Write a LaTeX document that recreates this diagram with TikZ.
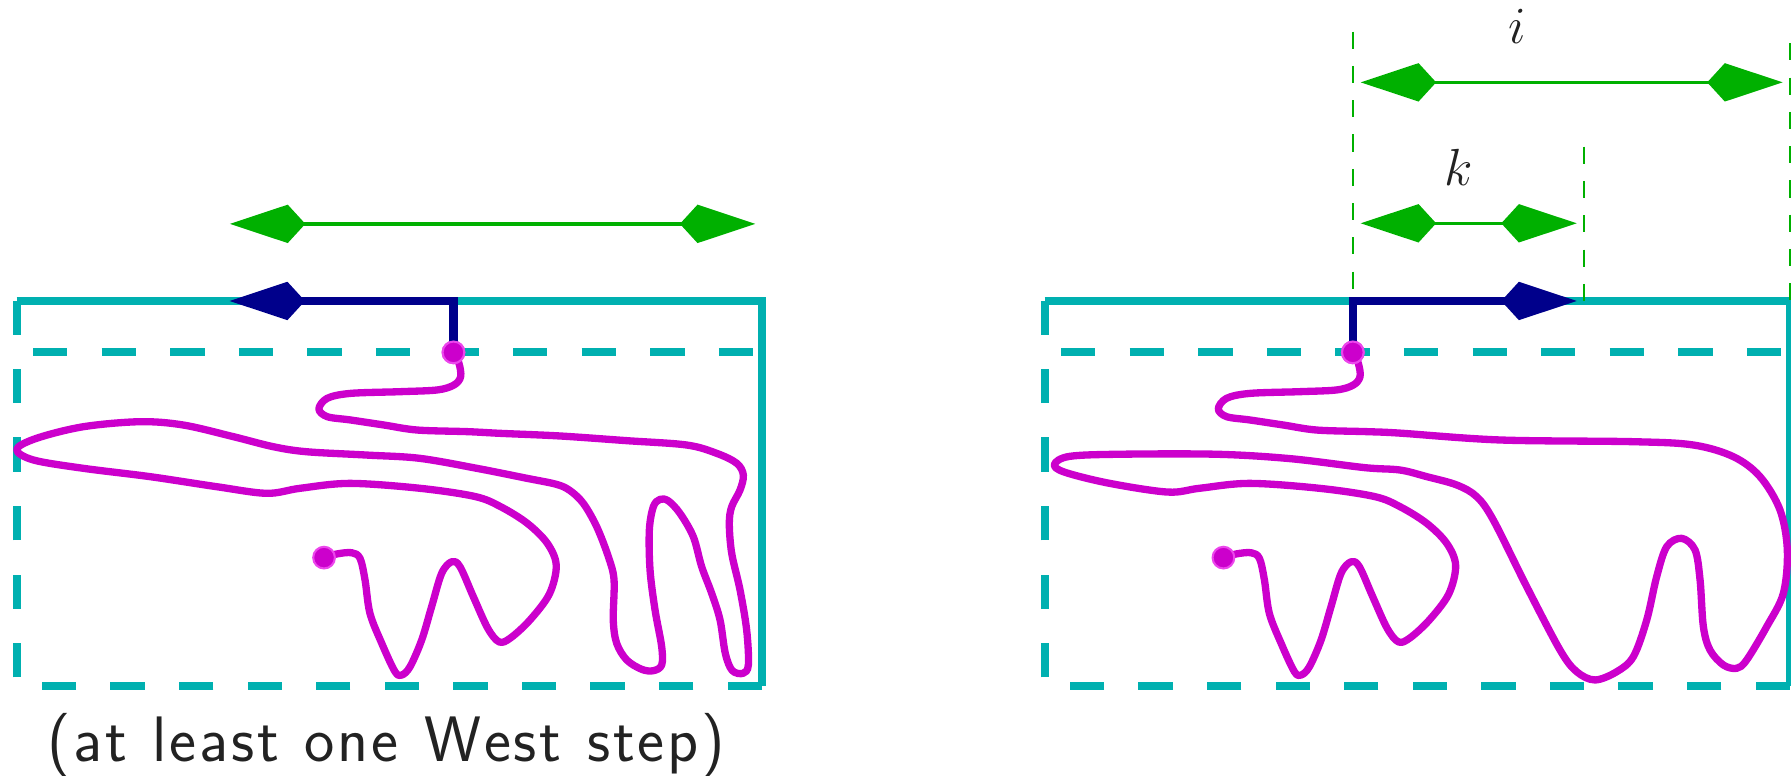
\RequirePackage{fix-cm}
\documentclass[tikz,border=0pt]{standalone}
\usepackage{fontspec}
\usetikzlibrary{arrows.meta}
\definecolor{cy}{RGB}{0,176,176}
\definecolor{nv}{RGB}{0,0,139}
\definecolor{gr}{RGB}{0,176,0}
\definecolor{mg}{RGB}{204,0,204}
\definecolor{mglight}{RGB}{236,70,236}
\definecolor{txt}{RGB}{34,34,34}
\newcommand\tk{\kern0.7pt}
\tikzset{
  boxsolid/.style={cy, line width=0.07cm},
  boxdashed/.style={cy, line width=0.07cm, dash pattern=on 0.30cm off 0.30cm},
  innerdashed/.style={cy, line width=0.07cm, dash pattern=on 0.30cm off 0.30cm},
  guide/.style={gr, line width=0.018cm, dash pattern=on 0.15cm off 0.15cm},
  span/.style={gr, line width=0.03cm, {Kite[length=0.66cm,width=0.336cm,inset=0.154cm]}-{Kite[length=0.66cm,width=0.336cm,inset=0.154cm]}},
  firststep/.style={nv, line width=0.075cm, -{Kite[length=0.66cm,width=0.336cm,inset=0.154cm]}},
  walk/.style={mg, line width=0.064cm, line cap=round, line join=round},
  walkdot/.style={circle, fill=mg, draw=mglight, line width=0.018cm, minimum size=0.19cm, inner sep=0pt},
  caption/.style={font=\sffamily\fontsize{16}{19}\selectfont, text=txt, anchor=base},
  lbl/.style={font=\fontsize{13}{15}\selectfont, text=txt, anchor=base},
}
\begin{document}
\begin{tikzpicture}[x=0.01cm, y=-0.01cm]
\useasboundingbox (0,0) rectangle (1568,679);

% ---------- left panel ----------
\draw[boxdashed] (667,601) -- (14.5,601) -- (14.5,263.5);
\draw[boxsolid] (14.5,263.5) -- (667,263.5) -- (667,601);
\draw[innerdashed] (29,308.5) -- (664,308.5);

\coordinate (LgA) at (201.3,196);
\coordinate (LgB) at (661.3,196);
\draw[span] (LgA) -- (LgB);

\coordinate (Lcorner) at (397,263.5);
\coordinate (Ltip) at (201,263.5);

\draw[walk] plot[smooth, tension=0.55] coordinates {
(397,308.5) (401.8,318) (403.3,329.8) (397.4,337.1) (382.8,341.4) (350.8,342.9) (307,344.4) (286.5,348.7) (279.2,358) (286.5,364.8) (307,367.7) (336.2,372.1) (365.4,376.5) (409.2,377.9) (438.3,379.4) (490.3,381.7) (548.7,385.8) (601.2,389.6) (627.5,396.9) (645,405.6) (650.8,415.9) (647.9,429) (640.6,443.6) (638.5,458.2) (640.6,484.4) (647.9,516.5) (653.7,551.6) (655.2,582) (650.5,589.5) (641,587) (635,572) (630.4,542.8) (623.1,519.5) (614.3,496.1) (607,469.9) (595.3,449.4) (585.1,438.5) (577.8,437.2) (572,443.6) (568.5,464) (569.1,499) (573.5,534.1) (579.3,566.2) (579.3,582.2) (572,587.2) (561.8,586) (548.7,577.8) (539.9,563.2) (536.9,542.8) (537.6,507.8) (532.6,487.4) (522.4,461.1) (510.7,440.7) (499,429.5) (487,424) (460,418.5) (420,410.5) (367.7,401.3) (321,398.4) (268.5,395.5) (239.3,391.1) (204.3,382.3) (160.5,372.1) (122.6,369.2) (72.9,373.6) (32.1,383.7) (14.6,393.4) (29.2,402.7) (72.9,410) (131.3,417.3) (189.7,426.1) (233.5,431.9) (262.7,427.5) (306.4,423.2) (367.7,427.5) (415.9,434.7) (438.3,443.6) (461.7,458.2) (479.2,475.7) (487,495) (481,520) (464,542.8) (447,558.5) (437,562) (427,550) (414.4,522.4) (402.7,496.1) (395.5,491.8) (386.7,501.9) (377.9,531.1) (369.2,560.3) (359,583.7) (351.7,591) (345.8,588) (334.2,563.2) (323.9,537) (319.6,507.8) (315.2,488.8) (307.9,483.9) (294.8,485) (283.7,488.2)};

\node[walkdot] (Lstart) at (397,308.5) {};
\node[walkdot] (Lend) at (283.7,488.2) {};
\draw[firststep] (Lstart.center) -- (Lcorner) -- (Ltip);
\node[walkdot] at (Lstart) {};

\node[caption] (cap) at (338,667) {(\tk a\tk t\tk\ \tk l\tk e\tk a\tk s\tk t\tk\ \tk o\tk n\tk e\tk\ \tk W\tk e\tk s\tk t\tk\ \tk s\tk t\tk e\tk p\tk)};

% ---------- right panel ----------
\draw[boxdashed] (1567,601) -- (914.5,601) -- (914.5,263.5);
\draw[boxsolid] (914.5,263.5) -- (1567,263.5) -- (1567,601);
\draw[innerdashed] (929,308.5) -- (1564,308.5);

\coordinate (G1top) at (1184.4,27.7);
\coordinate (G1bot) at (1184.4,263.5);
\coordinate (G2top) at (1387,128.4);
\coordinate (G2bot) at (1387,263.5);
\coordinate (G3top) at (1567,37.9);
\coordinate (G3bot) at (1567,263.5);
\draw[guide] (G1top) -- (G1bot);
\draw[guide] (G2top) -- (G2bot);
\draw[guide] (G3top) -- (G3bot);

\coordinate (IA) at (1191.3,72.1);
\coordinate (IB) at (1560.7,72.1);
\draw[span] (IA) -- (IB);
\node[lbl] (ilabel) at (1328,38) {$i$};

\coordinate (KA) at (1191.3,195.5);
\coordinate (KB) at (1380.4,195.5);
\draw[span] (KA) -- (KB);
\node[lbl] (klabel) at (1277,162) {$k$};

\coordinate (Rcorner) at (1184.4,263.5);
\coordinate (Rtip) at (1380.4,263.5);

\draw[walk] plot[smooth, tension=0.55] coordinates {
(1184.4,308.5) (1189.2,318.1) (1190.7,329.8) (1184.8,337.1) (1170.2,341.4) (1138.2,342.9) (1094.4,344.4) (1073.9,348.7) (1066.6,358) (1073.9,364.8) (1094.4,367.7) (1123.6,372.1) (1152.8,376.5) (1196.6,377.9) (1225.7,379.2) (1313.3,385.2) (1430,386.7) (1482.5,389.6) (1517.5,399.8) (1540.9,417.3) (1558.4,446.5) (1564.8,481.5) (1561.3,519.5) (1546.7,548.7) (1529.2,577.8) (1520.5,585.1) (1508.8,582.2) (1497.1,569.1) (1491.3,548.7) (1488.4,507.8) (1484,481.5) (1472.3,471.3) (1459.2,478.6) (1450.4,504.9) (1441.7,542.8) (1430,574.9) (1415.4,588.1) (1396.4,595.3) (1380.4,588.1) (1365.8,569.1) (1336.6,513.6) (1307.4,455.3) (1292.8,434.8) (1275.4,424.6) (1249.1,417.3) (1225.7,411.5) (1194.7,409.4) (1130.1,401.6) (1065.4,397.7) (979.2,397.7) (936.1,399.6) (923.2,406.5) (931.8,413.3) (970.6,423) (1022.3,430.8) (1050.1,427.5) (1093.8,423.2) (1155.1,427.5) (1203.3,434.7) (1225.7,443.6) (1249.1,458.2) (1266.6,475.7) (1274.4,495) (1268.4,520) (1251.4,542.8) (1234.4,558.5) (1224.4,562) (1214.4,550) (1201.8,522.4) (1190.1,496.1) (1182.9,491.8) (1174.1,501.9) (1165.3,531.1) (1156.6,560.3) (1146.4,583.7) (1139.1,591) (1133.2,588) (1121.6,563.2) (1111.3,537) (1107,507.8) (1102.6,488.8) (1095.3,483.9) (1082.2,485) (1071.1,488.2)};

\node[walkdot] (Rstart) at (1184.4,308.5) {};
\node[walkdot] (Rend) at (1071.1,488.2) {};
\draw[firststep] (Rstart.center) -- (Rcorner) -- (Rtip);
\node[walkdot] at (Rstart) {};
\end{tikzpicture}
\end{document}
